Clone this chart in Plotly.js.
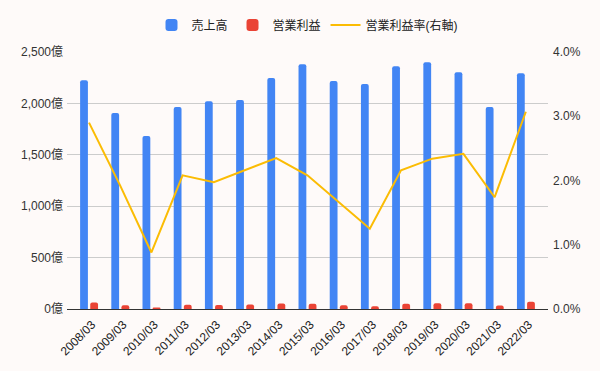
<!DOCTYPE html>
<html>
<head>
<meta charset="utf-8">
<script src="https://cdn.plot.ly/plotly-3.0.1.min.js"></script>
<style>html,body{margin:0;padding:0;background:#fefaf9;}#chart{width:600px;height:371px;}</style>
</head>
<body>
<div id="chart"></div>
<script>
const categories = ["2008/03","2009/03","2010/03","2011/03","2012/03","2013/03","2014/03","2015/03","2016/03","2017/03","2018/03","2019/03","2020/03","2021/03","2022/03"];
const sales = [2226, 1906, 1683, 1964, 2022, 2032, 2246, 2382, 2217, 2188, 2362, 2401, 2304, 1964, 2294];
const operatingProfit = [64, 37, 15, 41, 40, 44, 53, 50, 37, 27, 51, 56, 56, 34, 70];
const operatingMargin = [0.0290, 0.0192, 0.0088, 0.0208, 0.01975, 0.0216, 0.0235, 0.0208, 0.0167, 0.0125, 0.0216, 0.0234, 0.02415, 0.0174, 0.0307];
const seriesNames = ["売上高", "営業利益", "営業利益率(右軸)"];
const leftTickVals = [0, 500, 1000, 1500, 2000, 2500];
const leftTickText = ["0億", "500億", "1,000億", "1,500億", "2,000億", "2,500億"];

const font = "Arial, 'Liberation Sans', 'Noto Sans CJK JP', sans-serif";

const traces = [
  {type:'bar', name:seriesNames[0], x:categories, y:sales, width:0.25, offset:-0.285,
   marker:{color:'#4285f4', cornerradius:2}, hoverinfo:'skip'},
  {type:'bar', name:seriesNames[1], x:categories, y:operatingProfit, width:0.25, offset:0.04,
   marker:{color:'#ea4335', cornerradius:2}, hoverinfo:'skip'},
  {type:'scatter', mode:'lines', name:seriesNames[2], x:categories, y:operatingMargin, yaxis:'y2',
   line:{color:'#fbbc04', width:2}, hoverinfo:'skip'}
];

const layout = {
  width:600, height:371,
  paper_bgcolor:'#fefaf9', plot_bgcolor:'#fefaf9',
  margin:{l:67, r:52, t:52, b:62, pad:0},
  font:{family:font, size:12, color:'#333'},
  barmode:'overlay',
  showlegend:true,
  legend:{orientation:'h', x:0.5, xanchor:'center', xref:'paper', y:(371-25)/371, yref:'container', yanchor:'middle',
          font:{family:font, size:12, color:'#222'}, traceorder:'normal', itemwidth:30, bgcolor:'rgba(0,0,0,0)'},
  xaxis:{type:'category', range:[-0.705, 14.71], tickangle:-45, showgrid:false,
         showline:true, linecolor:'#333', linewidth:1, ticks:'', tickfont:{size:12, color:'#222'},
         ticklabelshift:3, ticklabelstandoff:3,
         fixedrange:true, zeroline:false},
  yaxis:{range:[0,2500], tickvals:leftTickVals, ticktext:leftTickText, showgrid:true,
         gridcolor:'#cccccc', gridwidth:1, zeroline:false, ticks:'', ticklabelstandoff:3,
         tickfont:{size:12, color:'#333'}, fixedrange:true},
  yaxis2:{range:[0,0.04], overlaying:'y', side:'right', dtick:0.01, tickformat:'.1%',
          showgrid:false, zeroline:false, ticks:'', ticklabelstandoff:4,
          tickfont:{size:12, color:'#333'}, fixedrange:true}
};

Plotly.newPlot('chart', traces, layout, {displayModeBar:false, staticPlot:true});
</script>
</body>
</html>
